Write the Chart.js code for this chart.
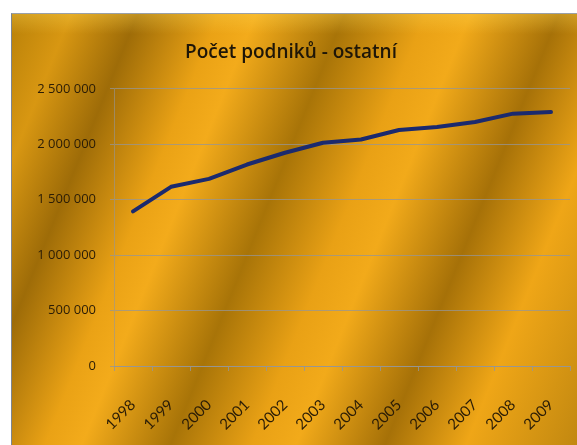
<!DOCTYPE html>
<html>
<head>
<meta charset="utf-8">
<script src="https://cdn.jsdelivr.net/npm/chart.js@4"></script>
<style>
  html, body { margin: 0; padding: 0; background: #fff; }
  #box {
    position: absolute; left: 11px; top: 13px; width: 566px; height: 432px;
    border-left: 1px solid #7d8590; border-top: 1px solid #9aa0a8;
    box-sizing: border-box;
    background:
      linear-gradient(180deg, rgba(255,215,80,0.35) 0px, rgba(255,215,80,0) 20px),
      linear-gradient(112deg, #b98109 0%, #d89712 8%, #9e6c08 17%, #eaa215 28%, #f3ab1b 33%, #a87408 45%, #e9a115 56%, #f2aa1a 62%, #a67108 74%, #efa617 85%, #c28810 100%);
  }
  canvas { display: block; }
</style>
</head>
<body>
<div id="box"><canvas id="c" width="565" height="431"></canvas></div>
<script>
const years = ["1998","1999","2000","2001","2002","2003","2004","2005","2006","2007","2008","2009"];
const podniky = [1395000,1616000,1688000,1817000,1923000,2013000,2043000,2128000,2155000,2200000,2276000,2290000];
const yTicks = [0,500000,1000000,1500000,2000000,2500000];

function fmt(v) {
  return String(v).replace(/\B(?=(\d{3})+(?!\d))/g, " ");
}

new Chart(document.getElementById("c"), {
  type: 'line',
  data: {
    labels: years,
    datasets: [{
      label: "Počet podniků",
      data: podniky,
      borderColor: "#1b2a6e",
      borderWidth: 4,
      pointRadius: 0,
      tension: 0,
      borderCapStyle: 'round',
      borderJoinStyle: 'round'
    }]
  },
  options: {
    responsive: false,
    animation: false,
    layout: { padding: { left: 0, right: 7, top: 0, bottom: 0 } },
    plugins: {
      legend: { display: false },
      tooltip: { enabled: false },
      title: {
        display: true,
        text: 'Počet podniků - ostatní',
        color: '#1e1608',
        font: { family: 'Open Sans', size: 19, weight: '600' },
        padding: { top: 27, bottom: 25 }
      }
    },
    scales: {
      x: {
        offset: true,
        grid: { offset: true, drawOnChartArea: false, color: 'rgba(150,150,150,0.8)', tickLength: 5 },
        border: { color: 'rgba(150,150,150,0.9)' },
        ticks: {
          color: '#2a1c06',
          font: { family: 'Lato', size: 15 },
          minRotation: 45, maxRotation: 45, padding: 25, autoSkip: false
        },
        afterFit: s => { s.height = 79; s.paddingLeft = 0; s.paddingRight = 0; }
      },
      y: {
        min: 0, max: 2500000,
        afterBuildTicks: s => { s.ticks = yTicks.map(v => ({ value: v })); },
        grid: { color: 'rgba(150,150,150,0.75)', tickLength: 4 },
        border: { color: 'rgba(150,150,150,0.6)' },
        ticks: {
          color: '#2a1c06',
          font: { family: 'Open Sans', size: 13 },
          padding: 14,
          callback: v => fmt(v)
        },
        afterFit: s => { s.width = 102; }
      }
    }
  }
});
</script>
</body>
</html>
